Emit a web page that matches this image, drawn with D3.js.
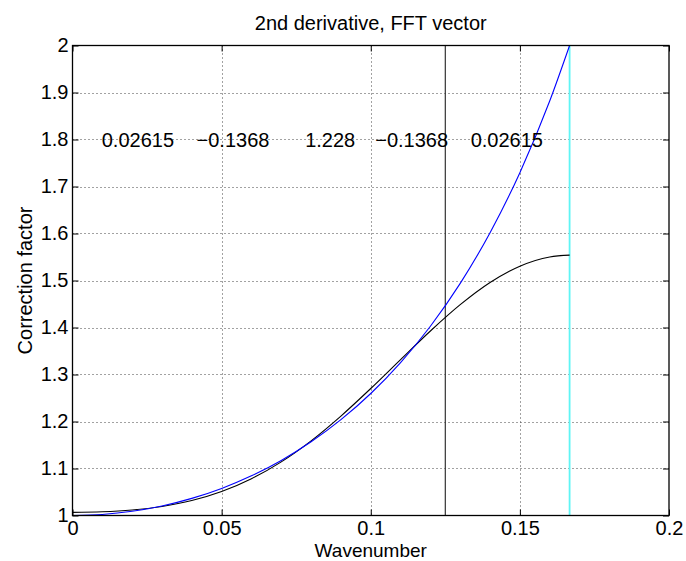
<!DOCTYPE html>
<html>
<head>
<meta charset="utf-8">
<script src="https://cdn.jsdelivr.net/npm/d3@7"></script>
<style>
  body { margin: 0; background: #fff; }
  svg { display: block; font-family: "Liberation Sans", Arial, sans-serif; }
</style>
</head>
<body>
<div id="container"></div>
<script>
/* DATA */
const wavenumber = [0, 0.01, 0.02, 0.03, 0.04, 0.05, 0.06, 0.07, 0.08, 0.09,
  0.10, 0.11, 0.12, 0.13, 0.14, 0.15, 0.16, 0.16667];
// blue: wanted correction
const wantedFactor = [1.0, 1.0022, 1.0089, 1.0203, 1.0364, 1.0576, 1.0844, 1.1172,
  1.1568, 1.2039, 1.2596, 1.3254, 1.4027, 1.4939, 1.6017, 1.7294, 1.8818, 2.0];
// black: response of the 5 point filter
const filterFactor = [1.0067, 1.0079, 1.0117, 1.0193, 1.0318, 1.0510, 1.0782, 1.1141,
  1.1589, 1.2116, 1.2702, 1.3318, 1.3926, 1.4486, 1.4958, 1.5305, 1.5501, 1.5539];
const coefficients = ["0.02615", "\u22120.1368", "1.228", "\u22120.1368", "0.02615"];
const xTicks = [0, 0.05, 0.1, 0.15, 0.2];
const yTicks = [1, 1.1, 1.2, 1.3, 1.4, 1.5, 1.6, 1.7, 1.8, 1.9, 2];
const cutWavenumber = 0.125;
const maxWavenumber = 0.16667;

/* LAYOUT */
const width = 686, height = 561;
const mLeft = 72.5, mRight = 669, mTop = 45.5, mBottom = 515.5;
const coefX = [0.0098, 0.0416, 0.0780, 0.1015, 0.1335]; // left edge of each label
const coefY = 1.8;

const svg = d3.select("#container").append("svg")
  .attr("width", width).attr("height", height);

const x = d3.scaleLinear().domain([0, 0.2]).range([mLeft, mRight]);
const y = d3.scaleLinear().domain([1, 2]).range([mBottom, mTop]);

// grid
svg.append("g").selectAll("line").data(xTicks.slice(1, -1)).join("line")
  .attr("x1", d => Math.round(x(d)) + 0.5).attr("x2", d => Math.round(x(d)) + 0.5)
  .attr("y1", mTop).attr("y2", mBottom)
  .attr("stroke", "#444").attr("stroke-dasharray", "1,3");
svg.append("g").selectAll("line").data(yTicks.slice(1, -1)).join("line")
  .attr("y1", d => Math.round(y(d)) + 0.5).attr("y2", d => Math.round(y(d)) + 0.5)
  .attr("x1", mLeft).attr("x2", mRight)
  .attr("stroke", "#444").attr("stroke-dasharray", "1,3");

// axes
const fmt = d3.format("~g");
const tickLen = 6;
svg.append("g").attr("transform", `translate(0,${mBottom})`)
  .call(d3.axisBottom(x).tickValues(xTicks).tickFormat(fmt).tickSizeInner(-tickLen).tickSizeOuter(0).tickPadding(5.5))
  .call(g => g.select(".domain").remove());
svg.append("g").attr("transform", `translate(0,${mTop})`)
  .call(d3.axisTop(x).tickValues(xTicks).tickFormat("").tickSizeInner(-tickLen).tickSizeOuter(0))
  .call(g => g.select(".domain").remove());
svg.append("g").attr("transform", `translate(${mLeft},0)`)
  .call(d3.axisLeft(y).tickValues(yTicks).tickFormat(fmt).tickSizeInner(-tickLen).tickSizeOuter(0).tickPadding(4))
  .call(g => g.select(".domain").remove());
svg.append("g").attr("transform", `translate(${mRight},0)`)
  .call(d3.axisRight(y).tickValues(yTicks).tickFormat("").tickSizeInner(-tickLen).tickSizeOuter(0))
  .call(g => g.select(".domain").remove());
svg.selectAll(".tick text").attr("font-size", 20).attr("fill", "#000")
  .attr("font-family", "Liberation Sans, Arial, sans-serif");
svg.selectAll(".tick line").attr("stroke", "#000");

// vertical markers
svg.append("line")
  .attr("x1", x(cutWavenumber)).attr("x2", x(cutWavenumber))
  .attr("y1", mTop).attr("y2", mBottom)
  .attr("stroke", "#333").attr("stroke-width", 1.2);
svg.append("line")
  .attr("x1", x(maxWavenumber)).attr("x2", x(maxWavenumber))
  .attr("y1", mTop).attr("y2", mBottom)
  .attr("stroke", "#5ff5f5").attr("stroke-width", 1.8);

// curves
const pts = (vals) => wavenumber.map((w, i) => [w, vals[i]]);
const line = d3.line().x(d => x(d[0])).y(d => y(d[1])).curve(d3.curveMonotoneX);
svg.append("path").datum(pts(filterFactor))
  .attr("d", line).attr("fill", "none").attr("stroke", "#000").attr("stroke-width", 1.1);
svg.append("path").datum(pts(wantedFactor))
  .attr("d", line).attr("fill", "none").attr("stroke", "#0000ff").attr("stroke-width", 1.1);

// box
svg.append("rect")
  .attr("x", mLeft).attr("y", mTop).attr("width", mRight - mLeft).attr("height", mBottom - mTop)
  .attr("fill", "none").attr("stroke", "#000").attr("stroke-width", 1.3);

// coefficient labels
svg.append("g").selectAll("text").data(coefficients).join("text")
  .attr("x", (d, i) => x(coefX[i])).attr("y", y(coefY)).attr("dy", "0.36em")
  .attr("font-size", 20).text(d => d);

// titles
svg.append("text").attr("x", (mLeft + mRight) / 2).attr("y", 30)
  .attr("text-anchor", "middle").attr("font-size", 20).text("2nd derivative, FFT vector");
svg.append("text").attr("x", (mLeft + mRight) / 2).attr("y", 556.8)
  .attr("text-anchor", "middle").attr("font-size", 19).text("Wavenumber");
svg.append("text").attr("transform", `translate(32,${(mTop + mBottom) / 2}) rotate(-90)`)
  .attr("text-anchor", "middle").attr("font-size", 20).text("Correction factor");
</script>
</body>
</html>
